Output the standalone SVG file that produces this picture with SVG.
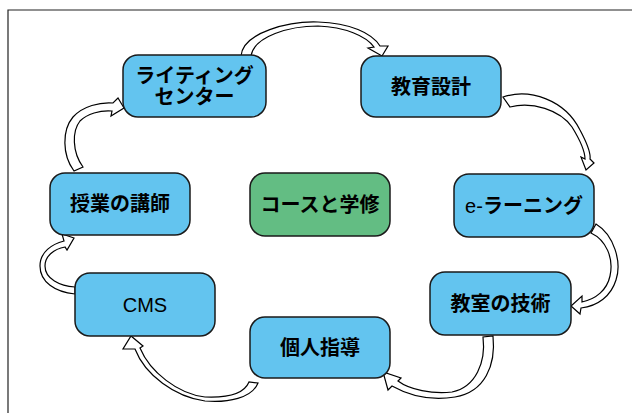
<svg xmlns="http://www.w3.org/2000/svg" width="632" height="413" viewBox="0 0 632 413">
<style>
.box{fill:#63C4EF;stroke:#1a1a1a;stroke-width:1.5}
.green{fill:#63BD83}
.t{font-family:"Liberation Sans","Noto Sans CJK JP",sans-serif;font-size:20px;font-weight:bold;fill:#000;text-anchor:middle;dominant-baseline:central}
.r{font-weight:normal;font-size:20px}
.arr{fill:#fff;stroke:#000;stroke-width:1.2;stroke-linejoin:miter}
</style>
<rect x="0" y="0" width="632" height="413" fill="#fff"/>
<path d="M8,413 V10 H632" fill="none" stroke="#222" stroke-width="1.2"/>
<g id="connectors">
<path class="arr" d="M241,56 C243,32 290,21 318,22 C350,23 372,33 380,46 L388,46 L382,56 L368,48 L374,47 C366,36 345,27 318,26 C290,26 254,36 251,56 Z"/>
<path class="arr" d="M503,97 C530,88 565,100 580,130 C588,145 591,153 590,159 L594,163 L586,170 L581,157 L585,159 C585,150 580,140 572,127 C560,110 532,101 510,107 Z"/>
<path class="arr" d="M596,224 C614,235 622,262 616,280 C611,296 598,306 581,308 L580,314 L571,306 L582,296 L582,302 C596,299 607,290 610,276 C614,258 606,240 591,233 Z"/>
<path class="arr" d="M493,336 C496,365 485,392 455,397 C430,401 408,395 392,386 L388,390 L383,372 L401,378 L398,381 C410,390 432,394 452,392 C476,387 486,362 483,337 Z"/>
<path class="arr" d="M258,383 C252,398 228,403 205,401 C175,397 145,375 135,349 L123,349 L131,336 L143,346 L140,348 C150,372 178,394 205,397 C228,398 244,394 249,382 Z"/>
<path class="arr" d="M75,294 C55,292 40,282 40,266 C40,252 52,244 64,241 L62,234 L74,238 L67,250 L65,247 C54,249 45,256 45,266 C45,279 60,286 75,287 Z"/>
<path class="arr" d="M74,171 C62,155 62,130 73,117 C83,106 100,102 113,103 L118,98 L124,108 L111,116 L112,111 C100,110 87,114 80,121 C72,131 72,152 83,167 Z"/>
</g>
<g id="n-writing"><rect class="box" x="123" y="55" width="143" height="62" rx="15"/><text class="t" x="194.5" y="76">ライティング</text><text class="t" x="194.5" y="97">センター</text></g>
<g id="n-design"><rect class="box" x="361" y="56" width="140" height="61" rx="15"/><text class="t" x="431" y="86.5">教育設計</text></g>
<g id="n-lecturer"><rect class="box" x="50" y="173" width="140" height="62" rx="15"/><text class="t" x="120" y="204">授業の講師</text></g>
<g id="n-course"><rect class="box green" x="250" y="173" width="140" height="63" rx="15"/><text class="t" x="320" y="204.5">コースと学修</text></g>
<g id="n-elearning"><rect class="box" x="454" y="174" width="140" height="63" rx="15"/><text class="t" x="524" y="205.5"><tspan class="r">e-</tspan>ラーニング</text></g>
<g id="n-cms"><rect class="box" x="75" y="273" width="140" height="63" rx="15"/><text class="t r" x="145" y="304.5">CMS</text></g>
<g id="n-classroom"><rect class="box" x="430" y="272" width="141" height="63" rx="15"/><text class="t" x="500.5" y="303.5">教室の技術</text></g>
<g id="n-tutoring"><rect class="box" x="250" y="317" width="140" height="61" rx="15"/><text class="t" x="320" y="347.5">個人指導</text></g>
</svg>
